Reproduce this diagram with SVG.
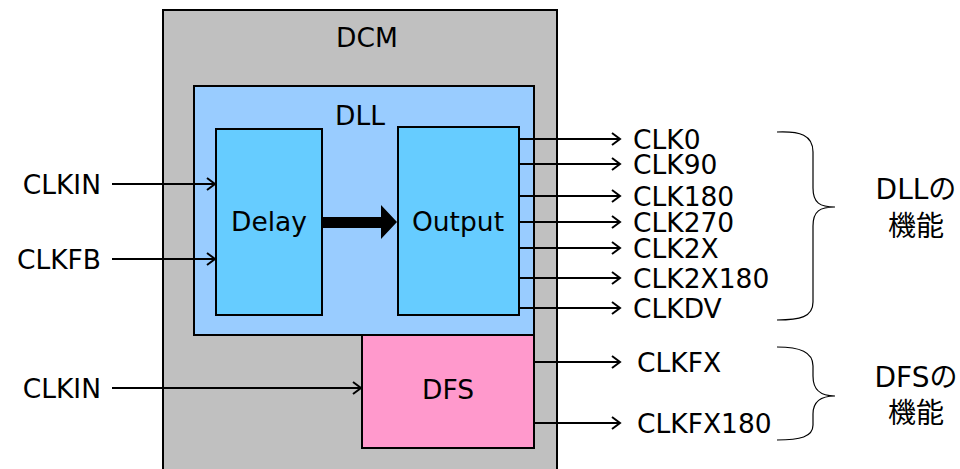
<svg xmlns="http://www.w3.org/2000/svg" width="960" height="469" viewBox="0 0 960 469">
<style>
text{font-family:"DejaVu Sans","Noto Sans CJK JP",sans-serif;font-size:26.5px;fill:#000}
.jp{font-size:28px}
.box{stroke:#000;stroke-width:2}
.ln{stroke:#000;stroke-width:2;fill:none}
.br{stroke:#000;stroke-width:1.2;fill:none}
</style>
<defs>
<marker id="ah" markerWidth="14" markerHeight="14" refX="11" refY="7" markerUnits="userSpaceOnUse" orient="auto">
<polyline points="3,1 11,7 3,13" fill="none" stroke="#000" stroke-width="2"/>
</marker>
</defs>
<g id="dcm"><rect class="box" x="163" y="10" width="394" height="470" fill="#c0c0c0"/><text x="367" y="47" text-anchor="middle">DCM</text></g>
<g id="dll"><rect class="box" x="194" y="86" width="340" height="249" fill="#99ccff"/><text x="360" y="125" text-anchor="middle">DLL</text></g>
<g id="delay"><rect class="box" x="216" y="129" width="106" height="186" fill="#66ccff"/><text x="269" y="231" text-anchor="middle">Delay</text></g>
<g id="output"><rect class="box" x="398" y="127" width="121" height="188" fill="#66ccff"/><text x="458" y="231" text-anchor="middle">Output</text></g>
<g id="dfs"><rect class="box" x="362" y="335" width="172" height="113" fill="#ff99cc"/><text x="448" y="399" text-anchor="middle">DFS</text></g>
<g id="connectors">
<polygon points="322,217 381,217 381,205 397,222 381,239 381,228 322,228" fill="#000"/>
<line class="ln" x1="112" y1="184" x2="215" y2="184" marker-end="url(#ah)"/>
<line class="ln" x1="112" y1="259" x2="215" y2="259" marker-end="url(#ah)"/>
<line class="ln" x1="112" y1="388" x2="361" y2="388" marker-end="url(#ah)"/>
<line class="ln" x1="519" y1="139" x2="620" y2="139" marker-end="url(#ah)"/>
<line class="ln" x1="519" y1="164" x2="620" y2="164" marker-end="url(#ah)"/>
<line class="ln" x1="519" y1="196" x2="620" y2="196" marker-end="url(#ah)"/>
<line class="ln" x1="519" y1="222" x2="620" y2="222" marker-end="url(#ah)"/>
<line class="ln" x1="519" y1="248" x2="620" y2="248" marker-end="url(#ah)"/>
<line class="ln" x1="519" y1="278" x2="620" y2="278" marker-end="url(#ah)"/>
<line class="ln" x1="519" y1="308" x2="620" y2="308" marker-end="url(#ah)"/>
<line class="ln" x1="534" y1="362" x2="620" y2="362" marker-end="url(#ah)"/>
<line class="ln" x1="534" y1="423" x2="620" y2="423" marker-end="url(#ah)"/>
<path class="br" d="M777,132 C800,131 813,135 813,152 L813,188 C813,203 820,207 835,207 C820,207 813,211 813,226 L813,302 C813,317 800,320 777,320"/>
<path class="br" d="M777,347 C800,347 813,352 813,366 L813,376 C813,390 820,396 835,396 C820,396 813,402 813,414 L813,425 C813,437 800,440 777,440"/>
</g>
<g id="labels">
<text x="101" y="194" text-anchor="end">CLKIN</text>
<text x="101" y="269" text-anchor="end">CLKFB</text>
<text x="101" y="398" text-anchor="end">CLKIN</text>
<text x="633" y="149">CLK0</text>
<text x="633" y="174">CLK90</text>
<text x="633" y="206">CLK180</text>
<text x="633" y="232">CLK270</text>
<text x="633" y="258">CLK2X</text>
<text x="633" y="288">CLK2X180</text>
<text x="633" y="318">CLKDV</text>
<text x="637" y="372">CLKFX</text>
<text x="637" y="433">CLKFX180</text>
<text class="jp" x="916" y="199" text-anchor="middle">DLLの</text>
<text class="jp" x="916" y="236" text-anchor="middle">機能</text>
<text class="jp" x="916" y="387" text-anchor="middle">DFSの</text>
<text class="jp" x="916" y="423" text-anchor="middle">機能</text>
</g>
</svg>
